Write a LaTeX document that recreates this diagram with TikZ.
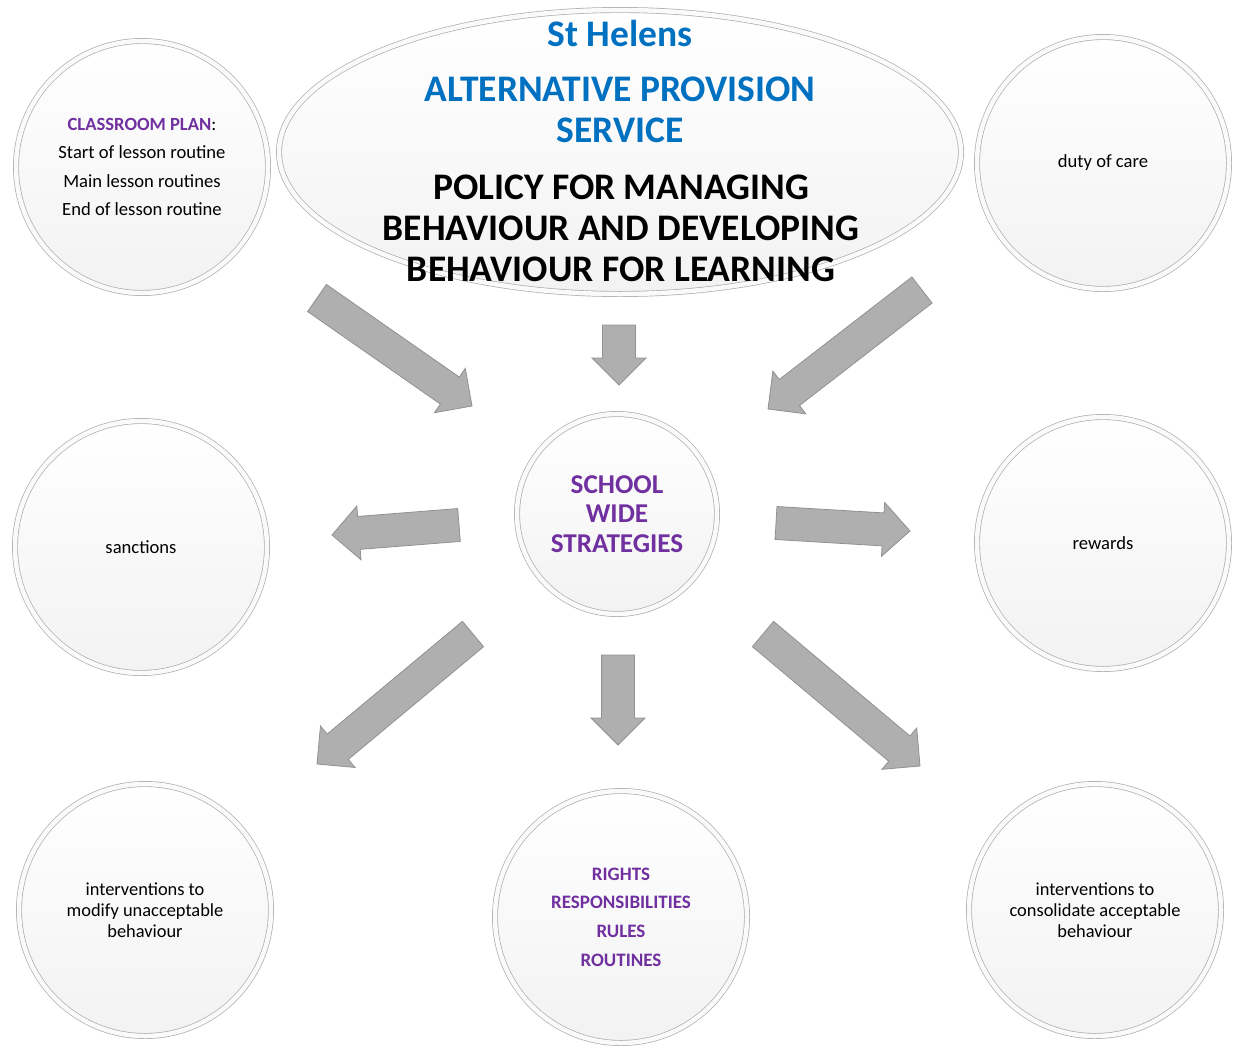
\documentclass[tikz,border=0pt]{standalone}
\usepackage{fontspec}
\setmainfont{Carlito}
\usetikzlibrary{shapes.geometric,shadows,calc}

\definecolor{aspblue}{RGB}{0,112,192}
\definecolor{plum}{RGB}{112,48,160}
\definecolor{arrowfill}{RGB}{175,175,175}
\definecolor{arrowedge}{RGB}{145,145,145}

% block arrow from #1 (tail) to #2 (tip)
\newcommand{\fatarrow}[2]{%
  \coordinate (ah) at ($(#2)!27pt!(#1)$);
  \draw[fat] ($(#1)!16.5pt!90:(#2)$) -- ($(ah)!16.5pt!90:(#2)$) -- ($(ah)!27pt!90:(#2)$)
    -- (#2) -- ($(ah)!27pt!-90:(#2)$) -- ($(ah)!16.5pt!-90:(#2)$) -- ($(#1)!16.5pt!-90:(#2)$) -- cycle;}

\begin{document}
\begin{tikzpicture}[x=1pt, y=-1pt,
    bubble/.style={circle, top color=white, middle color=white, bottom color=black!5,
      draw=black!32, line width=0.7pt, double=black!2, double distance=4.5pt,
      drop shadow={opacity=0.15, shadow xshift=1.5pt, shadow yshift=-2pt},
      minimum size=252pt, inner sep=0pt, align=center},
    small/.style={font=\fontsize{18.6}{28.5}\selectfont},
    tight/.style={font=\fontsize{18.4}{21}\selectfont},
    title/.style={font=\fontsize{37.5}{41}\selectfont\bfseries, align=center, inner sep=0pt},
    fat/.style={fill=arrowfill, draw=arrowedge, line width=0.8pt, line join=miter}]
    \useasboundingbox (0,0) rectangle (1242,1045);

    % Arrows
    \coordinate (nw-tail) at (317,298);   \coordinate (nw-tip) at (472,406);
    \coordinate (n-tail)  at (619,325);   \coordinate (n-tip)  at (619,385);
    \coordinate (ne-tail) at (922,290);   \coordinate (ne-tip) at (768,409);
    \coordinate (w-tail)  at (459,525);   \coordinate (w-tip)  at (332,535);
    \coordinate (e-tail)  at (776,523);   \coordinate (e-tip)  at (910,531);
    \coordinate (sw-tail) at (473,634);   \coordinate (sw-tip) at (317,764);
    \coordinate (s-tail)  at (618,655);   \coordinate (s-tip)  at (618,745);
    \coordinate (se-tail) at (763,634);   \coordinate (se-tip) at (920,766);
    \foreach \d in {nw,n,ne,w,e,sw,s,se}
        \fatarrow{\d-tail}{\d-tip};

    % 1. Title
    \node[bubble, ellipse, minimum width=682pt, minimum height=284pt] (crest) at (620,152) {};
    \node[title, text=aspblue] (town) at (620,33) {St Helens};
    \node[title, text=aspblue] (service) at (620,110) {ALTERNATIVE PROVISION\\SERVICE};
    \node[title] (policy) at (621,228) {POLICY FOR MANAGING\\BEHAVIOUR AND DEVELOPING\\BEHAVIOUR FOR LEARNING};

    % 2. Hub
    \node[bubble, minimum size=200pt, text=plum, font=\fontsize{27.2}{29.5}\selectfont\bfseries]
        (hub) at (617,514) {SCHOOL\\WIDE\\STRATEGIES};

    % 3. Outer circles
    \node[bubble, small] (plan) at (142,167)
        {{\color{plum}\bfseries CLASSROOM PLAN}:\\Start of lesson routine\\Main lesson routines\\End of lesson routine};
    \node[bubble, small] (care) at (1103,163) {duty of care};
    \node[bubble, small] (sanctions) at (141,547) {sanctions};
    \node[bubble, small] (rewards) at (1103,543) {rewards};
    \node[bubble, tight] (modify) at (145,910) {interventions to\\modify unacceptable\\behaviour};
    \node[bubble, font=\fontsize{19}{28.7}\selectfont\bfseries, text=plum] (rules) at (621,917)
        {RIGHTS\\RESPONSIBILITIES\\RULES\\ROUTINES};
    \node[bubble, tight] (consolidate) at (1095,910) {interventions to\\consolidate acceptable\\behaviour};
\end{tikzpicture}
\end{document}
